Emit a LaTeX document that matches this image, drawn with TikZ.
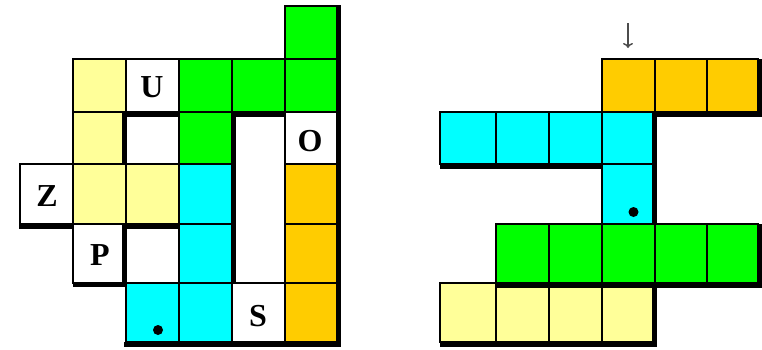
\documentclass[tikz,border=0pt]{standalone}
\usepackage{fontspec}
\setmainfont{Liberation Serif}
\usetikzlibrary{arrows.meta}
\definecolor{tileyellow}{RGB}{255,255,153}
\definecolor{tilegreen}{RGB}{0,255,0}
\definecolor{tilecyan}{RGB}{0,255,255}
\definecolor{tileorange}{RGB}{255,204,0}

\begin{document}
\begin{tikzpicture}[x=1pt, y=-1pt,
    cell/.style={draw=black, line width=1.8pt, fill=white},
    dropline/.style={draw=black, line width=5pt},
    letter/.style={font=\fontsize{32}{32}\selectfont\bfseries, inner sep=0pt},
    marker/.style={circle, fill=black, inner sep=0pt, minimum size=10pt}]
        \useasboundingbox (0,0) rectangle (762,349);

        % Left board: yellow piece
        \foreach \ya/\yb in {59/112, 112/164, 164/224}
            \draw[cell, fill=tileyellow] (73,\ya) rectangle (126,\yb);
        \draw[cell, fill=tileyellow] (126,164) rectangle (179,224);

        % Left board: green piece
        \draw[cell, fill=tilegreen] (285,6) rectangle (337,59);
        \foreach \xa/\xb in {179/232, 232/285, 285/337}
            \draw[cell, fill=tilegreen] (\xa,59) rectangle (\xb,112);
        \draw[cell, fill=tilegreen] (179,112) rectangle (232,164);

        % Left board: cyan piece
        \draw[cell, fill=tilecyan] (179,164) rectangle (232,224);
        \draw[cell, fill=tilecyan] (179,224) rectangle (232,283);
        \draw[cell, fill=tilecyan] (126,283) rectangle (179,342);
        \draw[cell, fill=tilecyan] (179,283) rectangle (232,342);

        % Left board: orange piece
        \foreach \ya/\yb in {164/224, 224/283, 283/342}
            \draw[cell, fill=tileorange] (285,\ya) rectangle (337,\yb);

        % Left board: lettered cells
        \draw[cell] (126,59) rectangle (179,112);
        \draw[cell] (285,112) rectangle (337,164);
        \draw[cell] (20,164) rectangle (73,224);
        \draw[cell] (73,224) rectangle (126,283);
        \draw[cell] (232,283) rectangle (285,342);
        \node[letter] (letU) at (152,87) {U};
        \node[letter] (letO) at (310,141) {O};
        \node[letter] (letZ) at (47,196) {Z};
        \node[letter] (letP) at (100,255) {P};
        \node[letter] (letS) at (258,316) {S};

        % Left board: shadows
        \draw[dropline] (124,344) -- (338.5,344) -- (338.5,5);
        \draw[dropline] (19,226) -- (73,226);
        \draw[dropline] (73,284.5) -| (124.5,226) -- (179,226);
        \draw[dropline] (124.5,164) |- (179,114.5);
        \draw[dropline] (233,283) |- (285,114.5);
        \node[marker] (leftdot) at (158,330) {};

        % Right board: orange piece
        \foreach \xa/\xb in {602/655, 655/707, 707/758}
            \draw[cell, fill=tileorange] (\xa,59) rectangle (\xb,112);

        % Right board: cyan piece
        \foreach \xa/\xb in {440/496, 496/549, 549/602, 602/655}
            \draw[cell, fill=tilecyan] (\xa,112) rectangle (\xb,164);
        \draw[cell, fill=tilecyan] (602,164) rectangle (655,224);

        % Right board: green piece
        \foreach \xa/\xb in {496/549, 549/602, 602/655, 655/707, 707/758}
            \draw[cell, fill=tilegreen] (\xa,224) rectangle (\xb,283);

        % Right board: yellow piece
        \foreach \xa/\xb in {440/496, 496/549, 549/602, 602/655}
            \draw[cell, fill=tileyellow] (\xa,283) rectangle (\xb,342);

        % Right board: shadows
        \draw[dropline] (655,114) -- (760.5,114) -- (760.5,59);
        \draw[dropline] (440,166.5) -- (602,166.5);
        \draw[dropline] (654.5,112) -- (654.5,224);
        \draw[dropline] (496,285) -- (760.5,285) -- (760.5,224);
        \draw[dropline] (440,344) -- (654.5,344) -- (654.5,283);
        \node[marker] (rightdot) at (633.5,212) {};

        % Drop arrow
        \coordinate (dropstart) at (628,23);
        \coordinate (droptip) at (628,48);
        \draw[-{To[length=5pt, width=10pt]}, line width=1.5pt, black!70] (dropstart) -- (droptip);

    \end{tikzpicture}
\end{document}
